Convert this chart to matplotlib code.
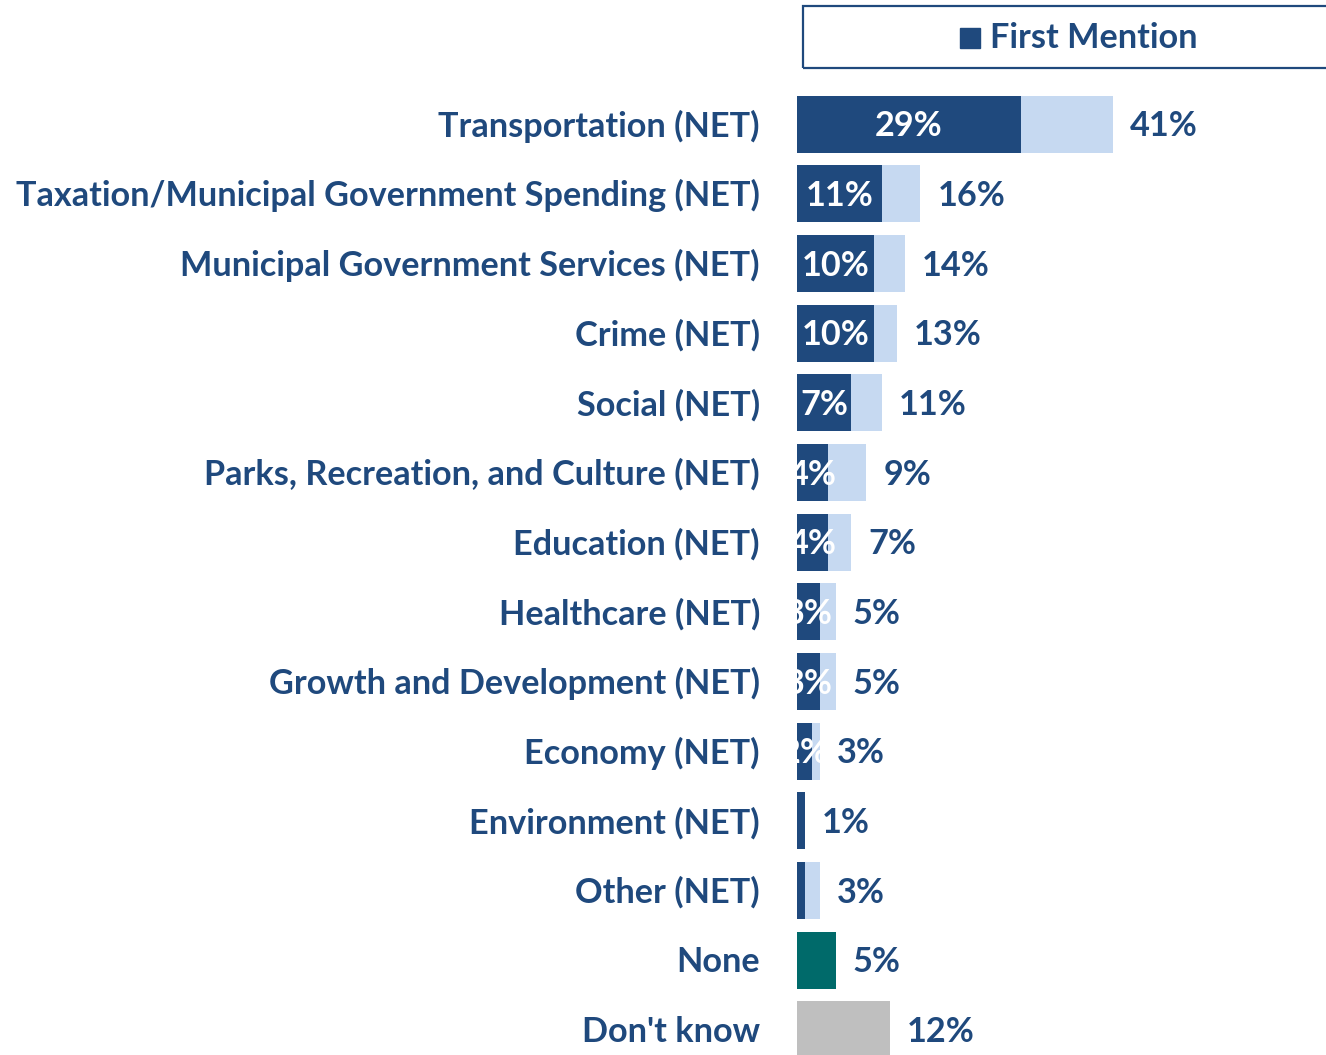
import matplotlib
matplotlib.use("Agg")
import matplotlib.pyplot as plt
from matplotlib.patches import Rectangle

plt.rcParams['font.family'] = ['Lato', 'DejaVu Sans']

# data
categories = [
    "Transportation (NET)",
    "Taxation/Municipal Government Spending (NET)",
    "Municipal Government Services (NET)",
    "Crime (NET)",
    "Social (NET)",
    "Parks, Recreation, and Culture (NET)",
    "Education (NET)",
    "Healthcare (NET)",
    "Growth and Development (NET)",
    "Economy (NET)",
    "Environment (NET)",
    "Other (NET)",
    "None",
    "Don't know",
]
total_mentions = [41, 16, 14, 13, 11, 9, 7, 5, 5, 3, 1, 3, 5, 12]
first_mention = [29, 11, 10, 10, 7, 4, 4, 3, 3, 2, 1, 1, None, None]

DARK = "#1F497D"
LIGHT = "#C6D9F1"
TEAL = "#006A6A"
GREY = "#BFBFBF"
TEXT = "#1F497D"
FS = 24.7

fig = plt.figure(figsize=(13.26, 10.55), dpi=100)
ax = fig.add_axes([797 / 1326, 0, 529 / 1326, 965 / 1055])
ax.set_xlim(0, 68.6)
ax.set_ylim(13.36, -0.49)
ax.axis("off")

bh = 0.82
dy = 0.03  # nudge text down a touch
for i, (cat, tot, first) in enumerate(zip(categories, total_mentions, first_mention)):
    if first is None:
        col = TEAL if cat == "None" else GREY
        ax.barh(i, tot, height=bh, color=col)
    else:
        tb = ax.barh(i, tot, height=bh, color=LIGHT)[0]
        ax.barh(i, first, height=bh, color=DARK)
        if first >= 2:
            t = ax.text(first / 2, i + dy, f"{first}%", ha="center", va="center",
                        color="white", fontsize=FS, fontweight="bold")
            t.set_clip_path(tb)
    ax.text(tot + 2.2, i + dy, f"{tot}%", ha="left", va="center",
            color=TEXT, fontsize=FS, fontweight="bold")
    ax.text(-4.8, i + dy, cat, ha="right", va="center", color=TEXT,
            fontsize=FS, fontweight="bold", clip_on=False)

# legend box
fig.patches.append(Rectangle((803 / 1326, 1 - 68 / 1055), 0.5, 62 / 1055,
                             transform=fig.transFigure, fill=False,
                             edgecolor=DARK, linewidth=1.6))
fig.patches.append(Rectangle((960 / 1326, 1 - 48 / 1055), 20 / 1326, 20 / 1055,
                             transform=fig.transFigure, color=DARK))
fig.text(990 / 1326, 1 - 38 / 1055, "First Mention", ha="left", va="center",
         color=TEXT, fontsize=FS, fontweight="bold")

fig.savefig("out.png", dpi=100)
